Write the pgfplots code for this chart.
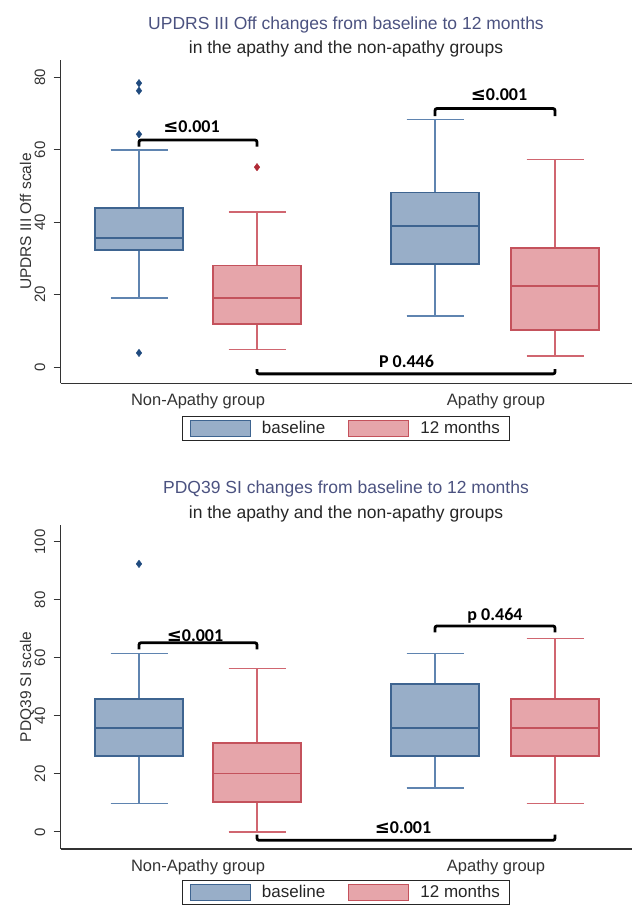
\documentclass[border=0pt]{standalone}
\usepackage{fontspec}
\setmainfont{Liberation Sans}
\newfontfamily\calib{Carlito}
\newfontfamily\dejavu{DejaVu Sans}
\usepackage{pgfplots}
\usepgfplotslibrary{statistics}
\pgfplotsset{compat=1.18}
\definecolor{bfill}{HTML}{98AEC8}
\definecolor{bline}{HTML}{3E6490}
\definecolor{bwhisk}{HTML}{5F84B0}
\definecolor{rfill}{HTML}{E6A5AA}
\definecolor{rline}{HTML}{C4525C}
\definecolor{rwhisk}{HTML}{D06670}
\definecolor{bout}{HTML}{1F4A7E}
\definecolor{rout}{HTML}{B02A36}
\definecolor{titleblue}{HTML}{4B5280}
\newcommand{\lefont}{\fontsize{18}{18}\selectfont\calib\bfseries}
\newcommand{\lesym}{{\dejavu\bfseries ≤}}
\pgfplotsset{
  mybox/.style={
    scale only axis, width=571.5pt,
    xmin=60.5, xmax=632,
    axis lines*=left,
    axis line style={draw=black!80, line width=1.1pt},
    xtick={198,496},
    xticklabels={Non-Apathy group, Apathy group},
    x tick style={draw=none},
    tick align=outside,
    major tick length=7pt,
    y tick style={draw=black!80, line width=1pt},
    xticklabel style={font=\fontsize{16.5}{16.5}\selectfont, text=black!80},
    yticklabel style={font=\fontsize{15}{15}\selectfont, text=black!80, rotate=90, anchor=base, inner sep=0pt},
    yticklabel shift=8.5pt,
    /pgf/number format/assume math mode=true,
    ylabel style={font=\fontsize{15.5}{15.5}\selectfont, text=black!80, at={(axis description cs:-0.0516,0.5)}, anchor=base, inner sep=0pt},
    clip=false,
    boxplot/draw direction=y,
    legend columns=2,
    legend style={anchor=north, draw=black!85, line width=1.2pt,
      font=\fontsize{17}{17}\selectfont, inner xsep=7pt, inner ysep=2pt,
      /tikz/every odd column/.append style={column sep=8pt},
      /tikz/every even column/.append style={column sep=20pt},
      nodes={inner sep=3pt, text=black!85}},
  },
  bbox/.style={draw=bline, fill=bfill, line width=1.6pt, mark=diamond*, mark size=3.8pt,
    mark options={draw=bout, fill=bout, line width=0.3pt},
    boxplot/every whisker/.style={draw=bwhisk, line width=1.5pt}, forget plot},
  rbox/.style={draw=rline, fill=rfill, line width=1.6pt, mark=diamond*, mark size=3.8pt,
    mark options={draw=rout, fill=rout, line width=0.3pt},
    boxplot/every whisker/.style={draw=rwhisk, line width=1.5pt}, forget plot},
  brk/.style={black, line width=2.8pt, rounded corners=2pt, forget plot, mark=none},
}
\begin{document}
\begin{tikzpicture}
\useasboundingbox (0pt,0pt) rectangle (632pt,-909pt);
% ---------------- top chart ----------------
\begin{axis}[mybox, at={(60.5pt,-383.3pt)}, anchor=south west, height=323.3pt,
  ymin=-4.5, ymax=84.8, ytick={0,20,40,60,80},
  ylabel={UPDRS III Off scale},
  legend style={at={(0.5,-0.101)}}]
\addplot[bbox, boxplot prepared={draw position=139, lower whisker=19.0, lower quartile=32.3,
  median=35.6, upper quartile=44.0, upper whisker=60.0, box extend=88, whisker extend=57}]
  coordinates {(0,3.9) (0,64.3) (0,76.3) (0,78.4)};
\addplot[rbox, boxplot prepared={draw position=257, lower whisker=4.9, lower quartile=11.9,
  median=19.0, upper quartile=28.0, upper whisker=42.8, box extend=88, whisker extend=57}]
  coordinates {(0,55.2)};
\addplot[bbox, boxplot prepared={draw position=435, lower whisker=14.1, lower quartile=28.4,
  median=39.0, upper quartile=48.2, upper whisker=68.4, box extend=88, whisker extend=57}]
  coordinates {};
\addplot[rbox, boxplot prepared={draw position=555, lower whisker=3.0, lower quartile=10.2,
  median=22.4, upper quartile=32.9, upper whisker=57.3, box extend=88, whisker extend=57}]
  coordinates {};
\node[font=\lefont, anchor=base] at (axis cs:191.5,64.7) {\lesym0.001};
\node[font=\lefont, anchor=base] at (axis cs:499,73.6) {\lesym0.001};
\node[font=\lefont, anchor=base] at (axis cs:406.5,-0.1) {P 0.446};
\addplot[brk] coordinates {(139,60.9) (139,62.7) (257,62.7) (257,60.9)};
\addplot[brk] coordinates {(435,69.3) (435,71.4) (555,71.4) (555,69.3)};
\addplot[brk] coordinates {(257,-0.6) (257,-1.9) (555,-1.9) (555,-0.6)};
\addlegendimage{legend image code/.code={\draw[draw=bline, fill=bfill, line width=1.2pt] (0pt,-8pt) rectangle (60pt,8pt);}}
\addlegendentry{baseline}
\addlegendimage{legend image code/.code={\draw[draw=rline, fill=rfill, line width=1.2pt] (0pt,-8pt) rectangle (60pt,8pt);}}
\addlegendentry{12 months}
\end{axis}
% ---------------- bottom chart ----------------
\begin{axis}[mybox, at={(60.5pt,-849pt)}, anchor=south west, height=324pt,
  ymin=-5.9, ymax=105.8, ytick={0,20,40,60,80,100},
  ylabel={PDQ39 SI scale},
  legend style={at={(0.5,-0.0957)}}]
\addplot[bbox, boxplot prepared={draw position=139, lower whisker=9.8, lower quartile=26.1,
  median=35.9, upper quartile=45.8, upper whisker=61.5, box extend=88, whisker extend=57}]
  coordinates {(0,92.4)};
\addplot[rbox, boxplot prepared={draw position=257, lower whisker=0.0, lower quartile=10.3,
  median=20.2, upper quartile=30.6, upper whisker=56.3, box extend=88, whisker extend=57}]
  coordinates {};
\addplot[bbox, boxplot prepared={draw position=435, lower whisker=15.2, lower quartile=26.1,
  median=35.9, upper quartile=51.0, upper whisker=61.5, box extend=88, whisker extend=57}]
  coordinates {};
\addplot[rbox, boxplot prepared={draw position=555, lower whisker=9.8, lower quartile=26.1,
  median=35.9, upper quartile=45.8, upper whisker=66.7, box extend=88, whisker extend=57}]
  coordinates {};
\node[font=\lefont, anchor=base] at (axis cs:195,65.5) {\lesym0.001};
\node[font=\lefont, anchor=base] at (axis cs:495,72.8) {p 0.464};
\node[font=\lefont, anchor=base] at (axis cs:403,-0.55) {\lesym0.001};
\addplot[brk] coordinates {(139,62.9) (139,65.2) (257,65.2) (257,62.9)};
\addplot[brk] coordinates {(435,68.8) (435,71.0) (555,71.0) (555,68.8)};
\addplot[brk] coordinates {(257,-0.9) (257,-2.9) (555,-2.9) (555,-0.9)};
\addlegendimage{legend image code/.code={\draw[draw=bline, fill=bfill, line width=1.2pt] (0pt,-8pt) rectangle (60pt,8pt);}}
\addlegendentry{baseline}
\addlegendimage{legend image code/.code={\draw[draw=rline, fill=rfill, line width=1.2pt] (0pt,-8pt) rectangle (60pt,8pt);}}
\addlegendentry{12 months}
\end{axis}
% ---------------- titles ----------------
\node[anchor=base, font=\fontsize{17.5}{17.5}\selectfont, text=titleblue] at (346pt,-29.5pt) {UPDRS III Off changes from baseline to 12 months};
\node[anchor=base, font=\fontsize{17.5}{17.5}\selectfont, text=black!85] at (346pt,-53.5pt) {in the apathy and the non-apathy groups};
\node[anchor=base, font=\fontsize{17.5}{17.5}\selectfont, text=titleblue] at (346pt,-493.5pt) {PDQ39 SI changes from baseline to 12 months};
\node[anchor=base, font=\fontsize{17.5}{17.5}\selectfont, text=black!85] at (346pt,-518pt) {in the apathy and the non-apathy groups};
\end{tikzpicture}
\end{document}
